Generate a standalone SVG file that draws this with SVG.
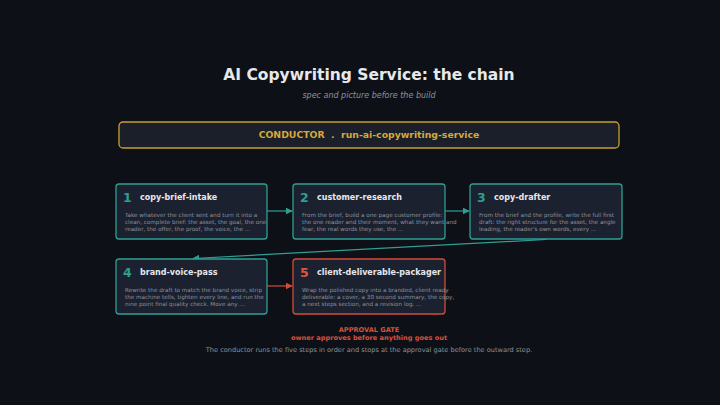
<svg xmlns="http://www.w3.org/2000/svg" width="720" height="405" viewBox="0 0 720 405">
<defs>
<style>
text{font-family:"DejaVu Sans","Noto Sans",sans-serif}
.title{font-size:15.5px;font-weight:bold;fill:#e6e8eb}
.sub{font-size:8px;font-style:italic;fill:#8b929c}
.cond{font-size:9.3px;font-weight:bold;fill:#d6a93a;white-space:pre}
.box{fill:#1c2130;stroke:#2f9e92;stroke-width:1.3}
.box.gate{stroke:#d24b3a}
.num{font-size:12.5px;font-weight:bold;fill:#2f9e92}
.num.gate{fill:#e0553f}
.name{font-size:8px;font-weight:bold;fill:#e6e8eb}
.desc{font-size:5.65px;fill:#8b929c}
.edge{stroke:#2f9e92;stroke-width:1.2;fill:none}
.edge.gate{stroke:#d24b3a}
.gt{font-size:6.6px;font-weight:bold;fill:#d9503d}
.foot{font-size:6.6px;fill:#8b929c}
</style>
<marker id="ah" viewBox="0 0 10 10" refX="9" refY="5" markerWidth="7" markerHeight="7" markerUnits="userSpaceOnUse" orient="auto"><path d="M0,0L10,5L0,10z" fill="#2f9e92"/></marker>
<marker id="ahr" viewBox="0 0 10 10" refX="9" refY="5" markerWidth="7" markerHeight="7" markerUnits="userSpaceOnUse" orient="auto"><path d="M0,0L10,5L0,10z" fill="#d24b3a"/></marker>
</defs>
<rect width="720" height="405" fill="#0d1117"/>
<text class="title" x="369" y="79.5" text-anchor="middle">AI Copywriting Service: the chain</text>
<text class="sub" x="369" y="97.5" text-anchor="middle">spec and picture before the build</text>
<g id="conductor">
<rect x="119" y="122" width="500" height="26" rx="4" fill="#1b1f2a" stroke="#c99e30" stroke-width="1.3"/>
<text class="cond" x="369" y="138.2" text-anchor="middle" xml:space="preserve">CONDUCTOR  .  run-ai-copywriting-service</text>
</g>
<g id="connectors">
<line class="edge" x1="267" y1="211" x2="292" y2="211" marker-end="url(#ah)"/>
<line class="edge" x1="445" y1="211" x2="469" y2="211" marker-end="url(#ah)"/>
<line class="edge" x1="546" y1="239.5" x2="193" y2="258.5" marker-end="url(#ah)"/>
<line class="edge gate" x1="267" y1="286" x2="292" y2="286" marker-end="url(#ahr)"/>
</g>
<g id="node1">
<rect class="box" x="116" y="184" width="151" height="55" rx="3"/>
<text class="num" x="123" y="201.5">1</text>
<text class="name" x="140" y="200">copy-brief-intake</text>
<text class="desc" x="125" y="217">Take whatever the client sent and turn it into a</text>
<text class="desc" x="125" y="224">clean, complete brief: the asset, the goal, the one</text>
<text class="desc" x="125" y="231">reader, the offer, the proof, the voice, the ...</text>
</g>
<g id="node2">
<rect class="box" x="293" y="184" width="152" height="55" rx="3"/>
<text class="num" x="300" y="201.5">2</text>
<text class="name" x="317" y="200">customer-research</text>
<text class="desc" x="302" y="217">From the brief, build a one page customer profile:</text>
<text class="desc" x="302" y="224">the one reader and their moment, what they want and</text>
<text class="desc" x="302" y="231">fear, the real words they use, the ...</text>
</g>
<g id="node3">
<rect class="box" x="470" y="184" width="152" height="55" rx="3"/>
<text class="num" x="477" y="201.5">3</text>
<text class="name" x="494" y="200">copy-drafter</text>
<text class="desc" x="479" y="217">From the brief and the profile, write the full first</text>
<text class="desc" x="479" y="224">draft: the right structure for the asset, the angle</text>
<text class="desc" x="479" y="231">leading, the reader's own words, every ...</text>
</g>
<g id="node4">
<rect class="box" x="116" y="259" width="151" height="55" rx="3"/>
<text class="num" x="123" y="276.5">4</text>
<text class="name" x="140" y="275">brand-voice-pass</text>
<text class="desc" x="125" y="292">Rewrite the draft to match the brand voice, strip</text>
<text class="desc" x="125" y="299">the machine tells, tighten every line, and run the</text>
<text class="desc" x="125" y="306">nine point final quality check. Move any ...</text>
</g>
<g id="node5">
<rect class="box gate" x="293" y="259" width="152" height="55" rx="3"/>
<text class="num gate" x="300" y="276.5">5</text>
<text class="name" x="317" y="275">client-deliverable-packager</text>
<text class="desc" x="302" y="292">Wrap the polished copy into a branded, client ready</text>
<text class="desc" x="302" y="299">deliverable: a cover, a 30 second summary, the copy,</text>
<text class="desc" x="302" y="306">a next steps section, and a revision log. ...</text>
</g>
<text class="gt" x="369" y="332" text-anchor="middle">APPROVAL GATE</text>
<text class="gt" x="369" y="340" text-anchor="middle">owner approves before anything goes out</text>
<text class="foot" x="369" y="352" text-anchor="middle">The conductor runs the five steps in order and stops at the approval gate before the outward step.</text>
</svg>
